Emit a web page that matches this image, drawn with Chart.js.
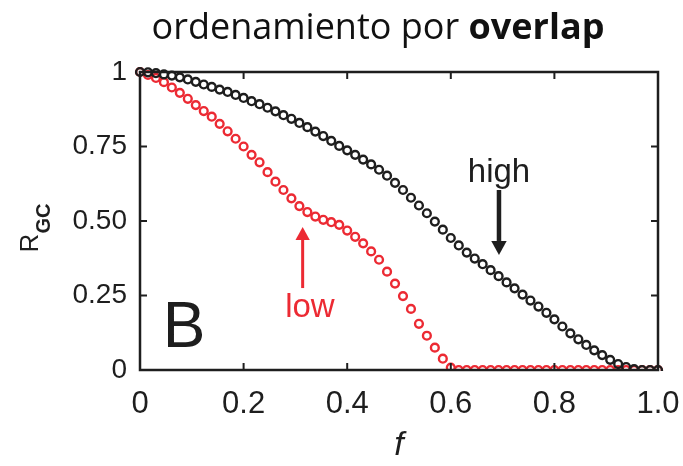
<!DOCTYPE html>
<html>
<head>
<meta charset="utf-8">
<script src="https://cdn.jsdelivr.net/npm/chart.js@4/dist/chart.umd.min.js"></script>
<style>
  html, body { margin: 0; padding: 0; background: #fff; }
  #wrap { position: relative; width: 683px; height: 466px; }
  #title {
    position: absolute; left: 0; top: 8px; width: 756px;
    text-align: center; font-family: "Open Sans", sans-serif;
    font-size: 36px; line-height: 36px; color: #111;
  }
</style>
</head>
<body>
<div id="wrap">
  <canvas id="chart" width="683" height="466"></canvas>
  <div id="title">ordenamiento por <b>overlap</b></div>
</div>
<script>
// fraction f of removed nodes (grid of the plotted points)
const fValues = [0, 0.0154, 0.0308, 0.0462, 0.0615, 0.0769, 0.0923, 0.1077, 0.1231, 0.1385,
  0.1538, 0.1692, 0.1846, 0.2, 0.2154, 0.2308, 0.2462, 0.2615, 0.2769, 0.2923,
  0.3077, 0.3231, 0.3385, 0.3538, 0.3692, 0.3846, 0.4, 0.4154, 0.4308, 0.4462,
  0.4615, 0.4769, 0.4923, 0.5077, 0.5231, 0.5385, 0.5538, 0.5692, 0.5846, 0.6,
  0.6154, 0.6308, 0.6462, 0.6615, 0.6769, 0.6923, 0.7077, 0.7231, 0.7385, 0.7538,
  0.7692, 0.7846, 0.8, 0.8154, 0.8308, 0.8462, 0.8615, 0.8769, 0.8923, 0.9077,
  0.9231, 0.9385, 0.9538, 0.9692, 0.9846, 1];

// R_GC, removing high-overlap links first
const highRgc = [1.000, 0.999, 0.996, 0.992, 0.988, 0.982, 0.975, 0.967, 0.958, 0.950,
  0.941, 0.933, 0.923, 0.913, 0.902, 0.892, 0.880, 0.868, 0.855, 0.843,
  0.829, 0.815, 0.800, 0.785, 0.769, 0.752, 0.737, 0.722, 0.706, 0.690,
  0.672, 0.652, 0.628, 0.604, 0.578, 0.552, 0.526, 0.498, 0.471, 0.443,
  0.418, 0.394, 0.374, 0.355, 0.335, 0.315, 0.294, 0.274, 0.253, 0.233,
  0.213, 0.192, 0.170, 0.146, 0.123, 0.103, 0.084, 0.066, 0.050, 0.034,
  0.020, 0.010, 0.003, 0, 0, 0];

// R_GC, removing low-overlap links first
const lowRgc = [1.000, 0.990, 0.980, 0.966, 0.948, 0.930, 0.910, 0.889, 0.869, 0.850,
  0.826, 0.801, 0.776, 0.750, 0.722, 0.697, 0.664, 0.632, 0.604, 0.576,
  0.550, 0.530, 0.515, 0.504, 0.496, 0.487, 0.468, 0.447, 0.425, 0.398,
  0.370, 0.330, 0.290, 0.248, 0.205, 0.155, 0.115, 0.075, 0.038, 0.008,
  0, 0, 0, 0, 0, 0, 0, 0, 0, 0,
  0, 0, 0, 0, 0, 0, 0, 0, 0, 0,
  0, 0, 0, 0, 0, 0];

const xTickLabels = ['0', '0.2', '0.4', '0.6', '0.8', '1.0'];
const yTickLabels = ['0', '0.25', '0.50', '0.75', '1'];

const BLACK = '#1e1e1e';
const RED = '#ec2a33';

function toPoints(ys) {
  return ys.map((v, i) => ({ x: fValues[i], y: v }));
}

function arrow(ctx, x, y1, y2, color, width, head) {
  const dir = y2 > y1 ? 1 : -1;
  ctx.strokeStyle = color;
  ctx.fillStyle = color;
  ctx.lineWidth = width;
  ctx.beginPath();
  ctx.moveTo(x, y1);
  ctx.lineTo(x, y2 - dir * head);
  ctx.stroke();
  ctx.beginPath();
  ctx.moveTo(x, y2);
  ctx.lineTo(x - head * 0.55, y2 - dir * head);
  ctx.lineTo(x + head * 0.55, y2 - dir * head);
  ctx.closePath();
  ctx.fill();
}

const decor = {
  id: 'decor',
  afterDatasetsDraw(chart) {
    const { ctx, chartArea: a, scales } = chart;
    const x = scales.x, y = scales.y;
    ctx.save();

    // box and inward ticks
    ctx.strokeStyle = BLACK;
    ctx.lineWidth = 2.5;
    ctx.strokeRect(a.left, a.top, a.right - a.left, a.bottom - a.top);
    ctx.lineWidth = 2;
    ctx.beginPath();
    [0.2, 0.4, 0.6, 0.8].forEach(v => {
      const px = x.getPixelForValue(v);
      ctx.moveTo(px, a.bottom); ctx.lineTo(px, a.bottom - 7);
      ctx.moveTo(px, a.top); ctx.lineTo(px, a.top + 7);
    });
    [0.25, 0.5, 0.75].forEach(v => {
      const py = y.getPixelForValue(v);
      ctx.moveTo(a.left, py); ctx.lineTo(a.left + 7, py);
      ctx.moveTo(a.right, py); ctx.lineTo(a.right - 7, py);
    });
    ctx.stroke();

    // annotations
    ctx.textBaseline = 'alphabetic';
    ctx.textAlign = 'center';
    ctx.fillStyle = BLACK;
    ctx.font = '33px "Liberation Sans"';
    ctx.fillText('high', x.getPixelForValue(0.693), y.getPixelForValue(0.631));
    arrow(ctx, x.getPixelForValue(0.693), y.getPixelForValue(0.604), y.getPixelForValue(0.386), BLACK, 4.5, 14);

    ctx.fillStyle = RED;
    ctx.fillText('low', x.getPixelForValue(0.328), y.getPixelForValue(0.178));
    arrow(ctx, x.getPixelForValue(0.314), y.getPixelForValue(0.275), y.getPixelForValue(0.48), RED, 3, 13);

    ctx.fillStyle = BLACK;
    ctx.textAlign = 'left';
    ctx.font = '64px "Liberation Sans"';
    ctx.fillText('B', x.getPixelForValue(0.044), y.getPixelForValue(0.077));

    // axis titles
    ctx.textAlign = 'center';
    ctx.textBaseline = 'middle';
    ctx.font = 'italic 34px "Liberation Sans"';
    ctx.fillText('f', (a.left + a.right) / 2, 446);

    ctx.translate(38, 228);
    ctx.rotate(-Math.PI / 2);
    ctx.textAlign = 'left';
    ctx.textBaseline = 'alphabetic';
    ctx.font = '26px "Liberation Sans"';
    const wR = ctx.measureText('R').width;
    ctx.font = 'bold 20px "Liberation Sans"';
    const wG = ctx.measureText('GC').width;
    const start = -(wR + wG) / 2;
    ctx.font = '26px "Liberation Sans"';
    ctx.fillText('R', start, 0);
    ctx.font = 'bold 20px "Liberation Sans"';
    ctx.fillText('GC', start + wR, 12);

    ctx.restore();
  }
};

const seriesStyle = (color) => ({
  showLine: false,
  pointBorderColor: color,
  pointBackgroundColor: 'rgba(255,255,255,0)',
  borderColor: color,
  clip: { left: 12, top: 12, right: 12, bottom: 1 }
});

new Chart(document.getElementById('chart'), {
  type: 'scatter',
  data: {
    datasets: [
      Object.assign({ label: 'high', data: toPoints(highRgc) }, seriesStyle(BLACK)),
      Object.assign({ label: 'low', data: toPoints(lowRgc) }, seriesStyle(RED))
    ]
  },
  options: {
    responsive: false,
    animation: false,
    elements: { point: { pointStyle: 'circle', radius: 3.9, borderWidth: 2.4 } },
    layout: { padding: { top: 72, right: 25, left: 0, bottom: 0 } },
    plugins: { legend: { display: false }, tooltip: { enabled: false } },
    scales: {
      x: {
        type: 'linear', min: 0, max: 1,
        grid: { display: false, drawTicks: false },
        border: { display: false },
        afterFit: s => { s.height = 96; s.paddingLeft = 0; s.paddingRight = 0; },
        ticks: {
          stepSize: 0.2, padding: 16, maxRotation: 0,
          color: BLACK, font: { family: 'Liberation Sans', size: 31 },
          callback: (v, i) => xTickLabels[i]
        }
      },
      y: {
        type: 'linear', min: 0, max: 1,
        grid: { display: false, drawTicks: false },
        border: { display: false },
        afterFit: s => { s.width = 140; s.paddingTop = 0; s.paddingBottom = 0; },
        ticks: {
          stepSize: 0.25, padding: 13,
          color: BLACK, font: { family: 'Liberation Sans', size: 28 },
          callback: (v, i) => yTickLabels[i]
        }
      }
    }
  },
  plugins: [decor]
});
</script>
</body>
</html>
